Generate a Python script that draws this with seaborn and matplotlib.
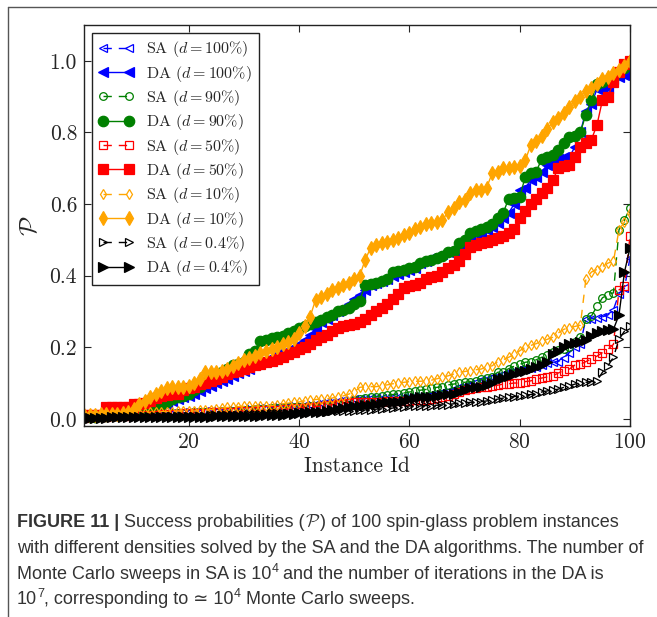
import matplotlib
matplotlib.use("Agg")
import matplotlib.pyplot as plt
from matplotlib.lines import Line2D
import seaborn as sns

# success probability per instance, sorted
instance_id = list(range(1, 101))

sa_100 = [0.003, 0.004, 0.005, 0.006, 0.006, 0.007, 0.008, 0.008, 0.009, 0.01,
          0.011, 0.012, 0.013, 0.014, 0.014, 0.015, 0.016, 0.017, 0.018, 0.018,
          0.019, 0.02, 0.021, 0.022, 0.022, 0.023, 0.024, 0.025, 0.026, 0.027,
          0.028, 0.029, 0.03, 0.031, 0.032, 0.033, 0.034, 0.035, 0.036, 0.037,
          0.038, 0.04, 0.042, 0.044, 0.046, 0.048, 0.05, 0.052, 0.054, 0.055,
          0.056, 0.056, 0.057, 0.058, 0.058, 0.059, 0.06, 0.06, 0.061, 0.062,
          0.063, 0.064, 0.065, 0.067, 0.07, 0.074, 0.078, 0.082, 0.088, 0.092,
          0.098, 0.102, 0.108, 0.112, 0.116, 0.12, 0.125, 0.13, 0.135, 0.139,
          0.14, 0.142, 0.145, 0.15, 0.155, 0.158, 0.16, 0.17, 0.185, 0.2,
          0.21, 0.278, 0.28, 0.282, 0.285, 0.29, 0.305, 0.35, 0.365, 0.45]
da_100 = [0.005, 0.005, 0.008, 0.01, 0.01,
          0.012, 0.015, 0.018, 0.02, 0.025, 0.028,
          0.03, 0.032, 0.035, 0.04, 0.042,
          0.05, 0.056, 0.06, 0.065, 0.07,
          0.078, 0.085, 0.092, 0.1, 0.105, 0.112, 0.12,
          0.128, 0.133, 0.14, 0.15, 0.16, 0.165, 0.172, 0.18,
          0.185, 0.192, 0.2, 0.208, 0.22, 0.235, 0.25,
          0.27, 0.28, 0.29, 0.3, 0.31, 0.32, 0.335,
          0.347, 0.36, 0.375, 0.38, 0.385, 0.39, 0.4,
          0.405, 0.41, 0.415, 0.42, 0.435, 0.44, 0.45, 0.455,
          0.46, 0.465, 0.47, 0.48, 0.5, 0.505, 0.515,
          0.52, 0.528, 0.535, 0.547, 0.56, 0.575, 0.6,
          0.64, 0.645, 0.667, 0.675, 0.69, 0.71, 0.72,
          0.725, 0.73, 0.73, 0.76, 0.8, 0.86, 0.88,
          0.92, 0.92, 0.925, 0.95, 0.955, 0.96, 0.967]
sa_90 = [0.004, 0.005, 0.006, 0.006, 0.008, 0.008, 0.009, 0.01, 0.01, 0.01,
         0.012, 0.012, 0.012, 0.014, 0.014, 0.014, 0.015, 0.016, 0.016, 0.017,
         0.018, 0.018, 0.019, 0.02, 0.02, 0.021, 0.022, 0.023, 0.024, 0.025,
         0.026, 0.027, 0.028, 0.028, 0.029, 0.03, 0.031, 0.032, 0.033, 0.033,
         0.034, 0.035, 0.036, 0.037, 0.038, 0.04, 0.042, 0.045, 0.048, 0.052,
         0.056, 0.058, 0.06, 0.062, 0.064, 0.066, 0.068, 0.07, 0.072, 0.075,
         0.077, 0.08, 0.082, 0.085, 0.088, 0.09, 0.095, 0.097, 0.1, 0.102,
         0.104, 0.106, 0.11, 0.115, 0.117, 0.13, 0.132, 0.14, 0.147, 0.152,
         0.158, 0.16, 0.165, 0.172, 0.178, 0.186, 0.192, 0.196, 0.2, 0.215,
         0.228, 0.278, 0.287, 0.314, 0.338, 0.347, 0.352, 0.528, 0.555, 0.59]
da_90 = [0.005, 0.005, 0.005, 0.008, 0.008, 0.01, 0.012, 0.015, 0.018,
         0.022, 0.025, 0.028, 0.03, 0.033, 0.04,
         0.048, 0.055, 0.06, 0.064, 0.07, 0.08,
         0.09, 0.1, 0.11, 0.12, 0.13, 0.14, 0.15,
         0.153, 0.16, 0.18, 0.19, 0.217,
         0.22, 0.225, 0.228, 0.23, 0.24, 0.245, 0.255,
         0.26, 0.264, 0.27, 0.275, 0.285, 0.29, 0.3,
         0.305, 0.31, 0.32, 0.33, 0.375, 0.378, 0.38,
         0.385, 0.39, 0.41, 0.412, 0.415, 0.42, 0.425,
         0.436, 0.44, 0.445, 0.45, 0.455, 0.465, 0.47,
         0.49, 0.5, 0.52, 0.525, 0.53, 0.537, 0.545,
         0.56, 0.575, 0.615, 0.618, 0.62, 0.675, 0.686,
         0.69, 0.727, 0.73, 0.736, 0.75, 0.77, 0.787,
         0.79, 0.8, 0.85, 0.89, 0.935, 0.94, 0.945,
         0.95, 0.97, 0.98, 0.995]
sa_50 = [0.003, 0.004, 0.005, 0.005, 0.006, 0.007, 0.008, 0.008, 0.009, 0.01,
         0.01, 0.011, 0.012, 0.012, 0.013, 0.013, 0.014, 0.014, 0.015, 0.015,
         0.016, 0.016, 0.017, 0.018, 0.018, 0.019, 0.02, 0.02, 0.021, 0.022,
         0.022, 0.023, 0.024, 0.024, 0.025, 0.026, 0.027, 0.028, 0.029, 0.03,
         0.031, 0.032, 0.034, 0.036, 0.038, 0.04, 0.042, 0.044, 0.045, 0.046,
         0.046, 0.047, 0.047, 0.048, 0.048, 0.049, 0.049, 0.05, 0.05, 0.051,
         0.052, 0.053, 0.054, 0.056, 0.058, 0.06, 0.064, 0.068, 0.075, 0.08,
         0.084, 0.086, 0.088, 0.09, 0.092, 0.094, 0.097, 0.098, 0.1, 0.1,
         0.104, 0.106, 0.111, 0.114, 0.117, 0.12, 0.128, 0.135, 0.139, 0.15,
         0.152, 0.16, 0.167, 0.175, 0.185, 0.194, 0.208, 0.36, 0.37, 0.51]
da_50 = [0.012, 0.012, 0.012, 0.012,
         0.033, 0.033, 0.033, 0.033, 0.033,
         0.042, 0.042, 0.045, 0.05,
         0.058, 0.064, 0.066, 0.07, 0.07,
         0.08, 0.085, 0.09, 0.097,
         0.1, 0.105, 0.11, 0.118, 0.125,
         0.13, 0.135, 0.14, 0.145, 0.15, 0.153,
         0.158, 0.162, 0.167, 0.172, 0.18, 0.187, 0.194,
         0.2, 0.21, 0.22, 0.228, 0.235, 0.245, 0.255,
         0.26, 0.262, 0.265, 0.27,
         0.28, 0.29, 0.3, 0.31, 0.32, 0.335, 0.35,
         0.365, 0.37, 0.375, 0.38, 0.39, 0.395, 0.4, 0.41,
         0.42, 0.43, 0.44, 0.46, 0.48,
         0.485, 0.49, 0.495, 0.5, 0.505, 0.51, 0.52, 0.53,
         0.56, 0.58, 0.6, 0.615, 0.63, 0.645, 0.667, 0.7,
         0.705, 0.71, 0.73, 0.76, 0.77, 0.78, 0.82,
         0.89, 0.9, 0.94, 0.97, 0.99, 1.0]
sa_10 = [0.008, 0.01, 0.012, 0.014, 0.014, 0.014, 0.014, 0.014, 0.015, 0.015,
         0.016, 0.016, 0.018, 0.018, 0.02, 0.02, 0.02, 0.022, 0.022, 0.022,
         0.022, 0.024, 0.025, 0.026, 0.028, 0.03, 0.032, 0.033, 0.034, 0.035,
         0.036, 0.036, 0.036, 0.036, 0.037, 0.04, 0.042, 0.044, 0.046, 0.047,
         0.05, 0.052, 0.054, 0.055, 0.056, 0.058, 0.062, 0.064, 0.069, 0.075,
         0.088, 0.09, 0.09, 0.09, 0.092, 0.095, 0.098, 0.1, 0.102, 0.104,
         0.105, 0.105, 0.106, 0.108, 0.112, 0.116, 0.12, 0.125, 0.13, 0.132,
         0.135, 0.137, 0.139, 0.145, 0.148, 0.16, 0.165, 0.172, 0.18, 0.19,
         0.2, 0.205, 0.21, 0.217, 0.222, 0.228, 0.24, 0.25, 0.255, 0.258,
         0.262, 0.39, 0.41, 0.417, 0.425, 0.435, 0.44, 0.528, 0.55, 0.575]
da_10 = [0.01, 0.01, 0.012, 0.014, 0.014, 0.014, 0.014, 0.016, 0.02,
         0.028, 0.042, 0.05, 0.06, 0.07, 0.078, 0.085,
         0.09, 0.09, 0.09, 0.092, 0.1, 0.11, 0.13,
         0.13, 0.132, 0.135, 0.14, 0.148, 0.155, 0.163,
         0.17, 0.175, 0.185, 0.19, 0.194, 0.2, 0.21,
         0.215, 0.222, 0.24, 0.26, 0.285, 0.333, 0.34,
         0.35, 0.36, 0.365, 0.375, 0.38, 0.39, 0.4,
         0.445, 0.478, 0.486, 0.49, 0.495, 0.5, 0.505,
         0.514, 0.52, 0.53, 0.537, 0.545, 0.547, 0.55,
         0.555, 0.578, 0.59, 0.606, 0.61, 0.63, 0.64,
         0.64, 0.645, 0.686, 0.69, 0.7, 0.7, 0.703,
         0.705, 0.722, 0.764, 0.775, 0.79, 0.81, 0.828,
         0.84, 0.853, 0.87, 0.889, 0.9, 0.917, 0.925,
         0.935, 0.95, 0.955, 0.967, 0.975, 0.986, 1.0]
sa_04 = [0.002, 0.002, 0.003, 0.003, 0.003, 0.004, 0.004, 0.004, 0.005, 0.005,
         0.005, 0.006, 0.006, 0.006, 0.007, 0.007, 0.007, 0.008, 0.008, 0.008,
         0.009, 0.009, 0.009, 0.01, 0.01, 0.01, 0.011, 0.011, 0.012, 0.012,
         0.013, 0.013, 0.014, 0.014, 0.015, 0.015, 0.016, 0.016, 0.017, 0.018,
         0.018, 0.019, 0.019, 0.02, 0.02, 0.021, 0.021, 0.022, 0.022, 0.023,
         0.024, 0.025, 0.026, 0.027, 0.028, 0.029, 0.03, 0.032, 0.034, 0.036,
         0.036, 0.036, 0.037, 0.037, 0.038, 0.039, 0.04, 0.042, 0.044, 0.045,
         0.046, 0.047, 0.048, 0.05, 0.052, 0.055, 0.058, 0.06, 0.062, 0.064,
         0.066, 0.068, 0.07, 0.075, 0.078, 0.08, 0.083, 0.088, 0.092, 0.097,
         0.1, 0.102, 0.104, 0.106, 0.13, 0.148, 0.172, 0.222, 0.245, 0.258]
da_04 = [0.002, 0.002, 0.003, 0.003, 0.003, 0.004, 0.004, 0.004, 0.004, 0.005,
         0.005, 0.005, 0.005, 0.005, 0.005, 0.005, 0.006, 0.006, 0.006, 0.006,
         0.006, 0.006, 0.006, 0.006, 0.007, 0.007, 0.007, 0.007, 0.008, 0.008,
         0.008, 0.008, 0.008, 0.01, 0.01, 0.012, 0.012, 0.014, 0.014, 0.015,
         0.016, 0.018, 0.02, 0.02, 0.022, 0.025, 0.028, 0.03, 0.033, 0.036,
         0.036, 0.038, 0.04, 0.042, 0.044, 0.046, 0.047, 0.048, 0.05, 0.055,
         0.058, 0.06, 0.06, 0.062, 0.064, 0.066, 0.068, 0.07, 0.075, 0.08,
         0.085, 0.088, 0.09, 0.095, 0.1, 0.11, 0.115, 0.12, 0.125, 0.13,
         0.135, 0.14, 0.145, 0.15, 0.158, 0.18, 0.19, 0.2, 0.208, 0.213,
         0.215, 0.22, 0.23, 0.24, 0.245, 0.248, 0.25, 0.29, 0.41, 0.478]

density_labels = ["100\\%", "90\\%", "50\\%", "10\\%", "0.4\\%"]

sns.set_style("ticks")
plt.rcParams["font.family"] = ["cmr10", "DejaVu Sans"]
plt.rcParams["mathtext.fontset"] = "cm"
plt.rcParams["axes.formatter.use_mathtext"] = True

fig = plt.figure(figsize=(6.57, 6.17), dpi=100)
ax = fig.add_axes([84 / 657, 1 - 426 / 617, 546 / 657, 401 / 617])

series = [
    (sa_100, da_100, "#0000ff", "<"),
    (sa_90, da_90, "#008000", "o"),
    (sa_50, da_50, "#ff0000", "s"),
    (sa_10, da_10, "#ffa500", "d"),
    (sa_04, da_04, "#000000", ">"),
]

for (sa, da, col, mk), dens in zip(series, density_labels):
    sns.lineplot(x=instance_id, y=sa, ax=ax, color=col, marker=mk,
                 markersize=5.5, markerfacecolor="none", markeredgecolor=col,
                 markeredgewidth=0.9, linestyle=(0, (6, 5)), linewidth=1.0,
                 errorbar=None, label="SA ($d = %s$)" % dens)
    sns.lineplot(x=instance_id, y=da, ax=ax, color=col, marker=mk,
                 markersize=7.5, markerfacecolor=col, markeredgecolor=col,
                 markeredgewidth=0.9, linestyle="-", linewidth=1.0,
                 errorbar=None, label="DA ($d = %s$)" % dens)

ax.set_xlim(1, 100)
ax.set_ylim(-0.02, 1.1)
ax.set_xticks([20, 40, 60, 80, 100])
ax.set_yticks([0.0, 0.2, 0.4, 0.6, 0.8, 1.0])
ax.set_yticklabels(["0.0", "0.2", "0.4", "0.6", "0.8", "1.0"])
ax.tick_params(direction="in", top=True, right=True, length=5, width=0.8,
               labelsize=15.5, pad=5)
for sp in ax.spines.values():
    sp.set_linewidth(1.0)
    sp.set_color("#222222")
ax.set_xlabel("Instance Id", fontsize=15.5, labelpad=3)
ax.set_ylabel(r"$\mathcal{P}$", fontsize=18, labelpad=5)

leg = ax.legend(loc="upper left", fontsize=11.5, numpoints=2, fancybox=False,
                framealpha=1, edgecolor="#222222", handlelength=2.2,
                labelspacing=0.27, borderaxespad=0.5)
leg.get_frame().set_linewidth(1.0)

# frame of the figure panel (cut off on the right)
fig.add_artist(Line2D([7.5 / 657, 7.5 / 657], [0, 1 - 6.5 / 617],
                      transform=fig.transFigure, color="#555555", lw=1))
fig.add_artist(Line2D([7.5 / 657, 1], [1 - 6.5 / 617, 1 - 6.5 / 617],
                      transform=fig.transFigure, color="#555555", lw=1))

# caption
cap_kw = dict(fontsize=13, color="#333333",
              family=["Liberation Sans", "DejaVu Sans"])
sup_dy = 7 / 617


def caption_line(y, pieces):
    prev = None
    for text, extra in pieces:
        kw = dict(cap_kw)
        kw.update(extra)
        dy = kw.pop("dy", 0)
        if prev is None:
            prev = fig.text(17 / 657, y + dy, text, va="baseline", **kw)
        else:
            prev = ax.annotate(text, xy=(1, y + dy),
                               xycoords=(prev, "figure fraction"),
                               va="baseline", ha="left",
                               annotation_clip=False, **kw)


sup = {"fontsize": 9, "dy": sup_dy}
caption_line(1 - 527 / 617, [
    ("FIGURE 11 |", {"weight": "bold"}),
    (" Success probabilities (", {}),
    (r"$\mathcal{P}$", {}),
    (") of 100 spin-glass problem instances", {}),
])
caption_line(1 - 553 / 617, [
    ("with different densities solved by the SA and the DA algorithms. "
     "The number of", {}),
])
caption_line(1 - 579 / 617, [
    ("Monte Carlo sweeps in SA is 10", {}),
    ("4", sup),
    (" and the number of iterations in the DA is", {}),
])
caption_line(1 - 604 / 617, [
    ("10", {}),
    ("7", sup),
    (", corresponding to \u2243 10", {}),
    ("4", sup),
    (" Monte Carlo sweeps.", {}),
])

plt.savefig("out.png", dpi=100)
